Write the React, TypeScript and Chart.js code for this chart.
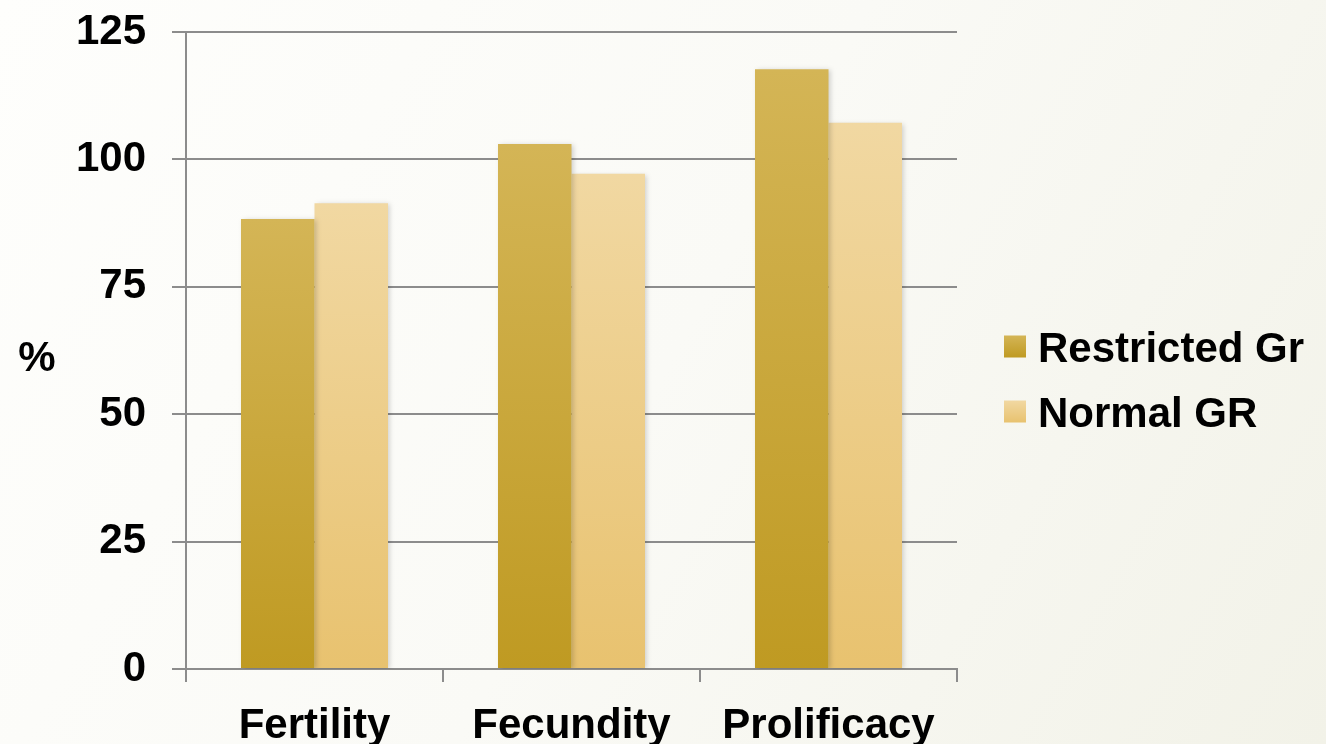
import React, { useEffect, useRef } from "react";
import { Chart, registerables } from "chart.js";

Chart.register(...registerables);

const categories = ["Fertility", "Fecundity", "Prolificacy"];
const restrictedValues = [88.3, 103.0, 117.7];
const normalValues = [91.4, 97.2, 107.2];
const yTickValues = [0, 25, 50, 75, 100, 125];
const seriesNames = ["Restricted Gr", "Normal GR"];
const yAxisTitle = "%";

const FONT = "'Liberation Sans', Arial, Helvetica, sans-serif";
const W = 1326;
const H = 744;

const restrictedStops = ["#d4b556", "#bf9a22"];
const normalStops = ["#f1d8a2", "#e8c26f"];
const restrictedMid = "#c9a83c";
const normalMid = "#edcd8a";
const axisGray = "#8c8c8c";

function barGradient(stops: string[], fallback: string) {
  return (ctx: any) => {
    const chart = ctx.chart;
    const ca = chart.chartArea;
    const y = chart.scales?.y;
    if (!ca || !y || ctx.type !== "data") return fallback;
    const v = ctx.raw as number;
    const top = y.getPixelForValue(v);
    const bottom = y.getPixelForValue(0);
    if (!isFinite(top) || !isFinite(bottom) || top === bottom) return fallback;
    const g = chart.ctx.createLinearGradient(0, top, 0, bottom);
    g.addColorStop(0, stops[0]);
    g.addColorStop(1, stops[1]);
    return g;
  };
}

const backgroundPlugin = {
  id: "bgFill",
  beforeDraw(chart: any) {
    const c = chart.ctx;
    c.save();
    const g = c.createLinearGradient(0, 0, chart.width, chart.height);
    g.addColorStop(0, "#fefefc");
    g.addColorStop(0.5, "#fafaf6");
    g.addColorStop(1, "#f2f2e8");
    c.fillStyle = g;
    c.fillRect(0, 0, chart.width, chart.height);
    c.restore();
  },
};

const shadowPlugin = {
  id: "barShadow",
  beforeDatasetsDraw(chart: any) {
    const c = chart.ctx;
    c.save();
    c.shadowColor = "rgba(0,0,0,0.18)";
    c.shadowBlur = 5;
    c.shadowOffsetX = 2;
    c.shadowOffsetY = 1;
  },
  afterDatasetsDraw(chart: any) {
    chart.ctx.restore();
  },
};

const percentPlugin = {
  id: "percentTitle",
  afterDraw(chart: any) {
    const c = chart.ctx;
    const ca = chart.chartArea;
    c.save();
    c.fillStyle = "#000";
    c.font = `bold 42px ${FONT}`;
    c.textAlign = "center";
    c.textBaseline = "alphabetic";
    c.fillText(yAxisTitle, 37, (ca.top + ca.bottom) / 2 + 5 + 15);
    c.restore();
  },
};

const legendPlugin = {
  id: "customLegend",
  afterDraw(chart: any) {
    const c = chart.ctx;
    const ca = chart.chartArea;
    const items = [
      { text: seriesNames[0], stops: restrictedStops },
      { text: seriesNames[1], stops: normalStops },
    ];
    const boxX = ca.right + 47;
    const firstCenter = (ca.top + ca.bottom) / 2 - 4;
    const rowGap = 65;
    c.save();
    items.forEach((it, i) => {
      const cy = firstCenter + i * rowGap;
      const g = c.createLinearGradient(0, cy - 11, 0, cy + 11);
      g.addColorStop(0, it.stops[0]);
      g.addColorStop(1, it.stops[1]);
      c.fillStyle = g;
      c.fillRect(boxX, cy - 11, 22, 22);
      c.fillStyle = "#000";
      c.font = `bold 42px ${FONT}`;
      c.textAlign = "left";
      c.textBaseline = "alphabetic";
      c.fillText(it.text, boxX + 34, cy + 15);
    });
    c.restore();
  },
};

export default function App() {
  const ref = useRef<HTMLCanvasElement | null>(null);

  useEffect(() => {
    if (!ref.current) return;
    const chart = new Chart(ref.current, {
      type: "bar",
      data: {
        labels: categories,
        datasets: [
          {
            label: seriesNames[0],
            data: restrictedValues,
            backgroundColor: barGradient(restrictedStops, restrictedMid),
            borderWidth: 0,
            categoryPercentage: 0.572,
            barPercentage: 1.0,
          },
          {
            label: seriesNames[1],
            data: normalValues,
            backgroundColor: barGradient(normalStops, normalMid),
            borderWidth: 0,
            categoryPercentage: 0.572,
            barPercentage: 1.0,
          },
        ],
      },
      options: {
        responsive: false,
        animation: false,
        devicePixelRatio: 1,
        layout: { padding: { left: 0, top: 32, right: 369, bottom: 0 } },
        plugins: {
          tooltip: { enabled: false },
          legend: { display: false },
        },
        scales: {
          x: {
            grid: {
              display: true,
              offset: true,
              drawOnChartArea: false,
              drawTicks: true,
              tickLength: 13,
              color: axisGray,
              lineWidth: 2,
            },
            border: { display: true, color: axisGray, width: 2 },
            ticks: {
              color: "#000",
              padding: 19,
              font: { family: FONT, size: 42, weight: "bold" },
              maxRotation: 0,
            },
            afterFit: (s: any) => {
              s.height = 75;
            },
          },
          y: {
            min: 0,
            max: 125,
            afterBuildTicks: (s: any) => {
              s.ticks = yTickValues.map((v) => ({ value: v }));
            },
            grid: {
              color: axisGray,
              lineWidth: 2,
              tickLength: 14,
              drawTicks: true,
            },
            border: { display: true, color: axisGray, width: 2 },
            ticks: {
              color: "#000",
              padding: 26,
              font: { family: FONT, size: 42, weight: "bold", lineHeight: 0.1 },
            },
            afterFit: (s: any) => {
              s.width = 186;
            },
          },
        },
      },
      plugins: [backgroundPlugin, shadowPlugin, percentPlugin, legendPlugin],
    } as any);
    return () => chart.destroy();
  }, []);

  return (
    <div style={{ position: "fixed", left: 0, top: 0, width: W, height: H, overflow: "hidden" }}>
      <canvas ref={ref} width={W} height={H} style={{ display: "block", width: W, height: H }} />
    </div>
  );
}
